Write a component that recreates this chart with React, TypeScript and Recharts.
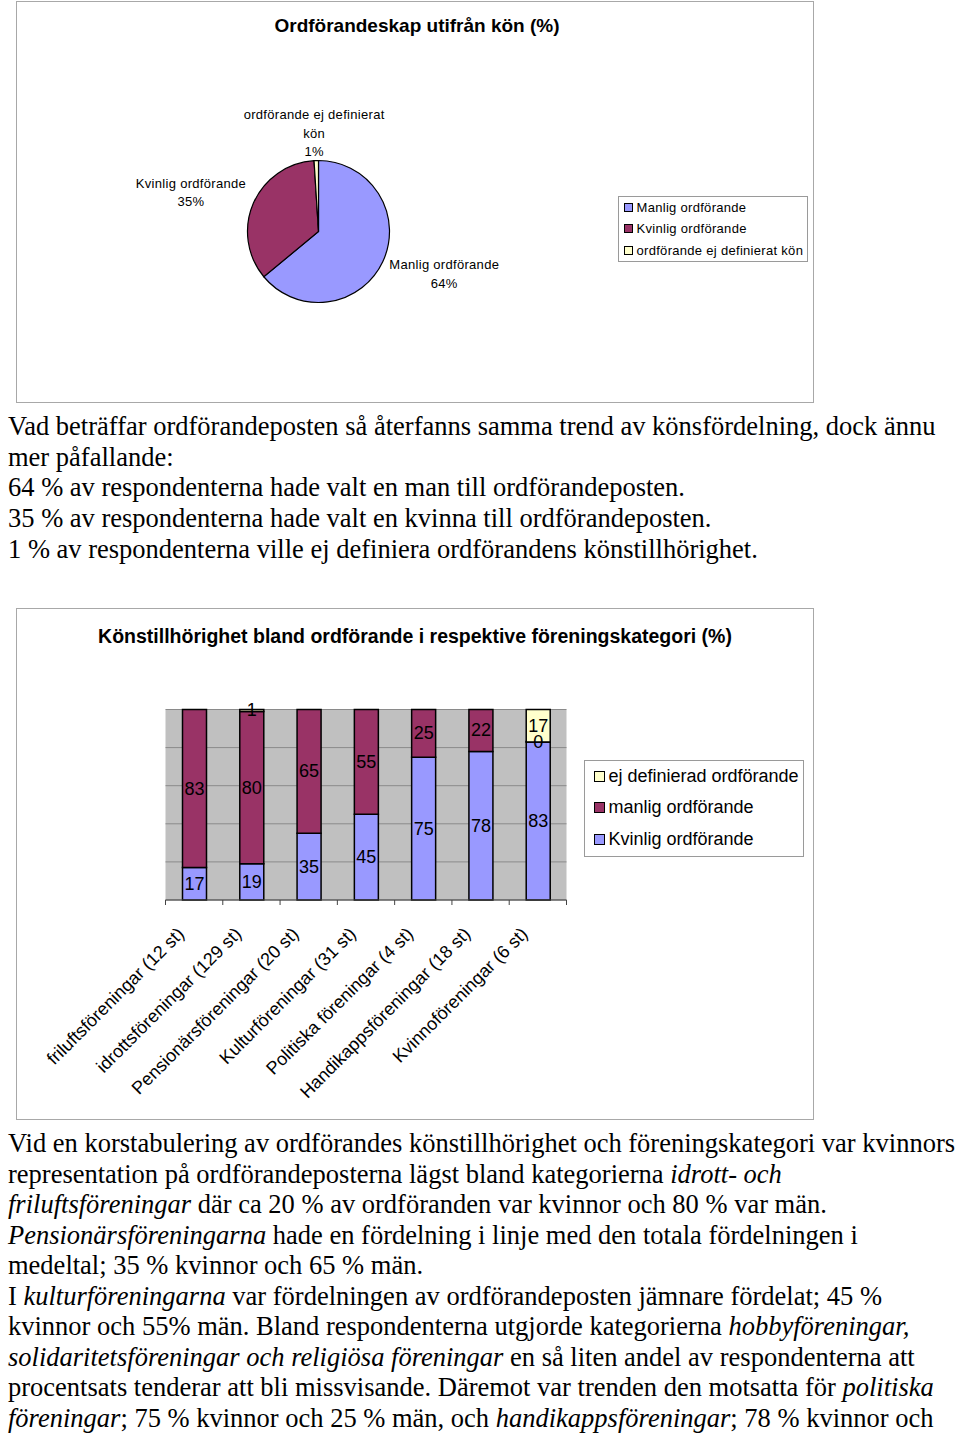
import React from 'react';
import {
  PieChart,
  Pie,
  Cell,
  Legend,
  BarChart,
  Bar,
  XAxis,
  YAxis,
  CartesianGrid,
  LabelList,
} from 'recharts';

// --- Diagram 1: ordförandeskap utifrån kön ---
const pieNames = ['Manlig ordförande', 'Kvinlig ordförande', 'ordförande ej definierat kön'];
const pieValues = [64, 35, 1];
const pieColors = ['#9999FF', '#993366', '#FFFFCC'];

// --- Diagram 2: könstillhörighet per föreningskategori ---
const categories = [
  'friluftsföreningar (12 st)',
  'idrottsföreningar (129 st)',
  'Pensionärsföreningar (20 st)',
  'Kulturföreningar (31 st)',
  'Politiska föreningar (4 st)',
  'Handikappsföreningar (18 st)',
  'Kvinnoföreningar (6 st)',
];
const kvinligValues = [17, 19, 35, 45, 75, 78, 83];
const manligValues = [83, 80, 65, 55, 25, 22, 0];
const ejValues: (number | null)[] = [null, 1, null, null, null, null, 17];
const yTicks = [0, 10, 20, 30, 40, 50, 60, 70, 80, 90, 100];

const pieData = pieNames.map((name, i) => ({ name, value: pieValues[i], color: pieColors[i] }));
const barData = categories.map((cat, i) => ({
  cat,
  kvinlig: kvinligValues[i],
  manlig: manligValues[i],
  ej: ejValues[i],
}));

const SANS = '"Liberation Sans", Arial, sans-serif';
const SERIF = '"Liberation Serif", "Times New Roman", serif';

const wrap = (s: string, max: number) => {
  const out: string[] = [];
  let cur = '';
  s.split(' ').forEach((w) => {
    if (cur && (cur + ' ' + w).length > max) {
      out.push(cur);
      cur = w;
    } else cur = cur ? cur + ' ' + w : w;
  });
  if (cur) out.push(cur);
  return out;
};

const RAD = Math.PI / 180;
const renderPieLabel = (p: any) => {
  const { cx, cy, midAngle, outerRadius, name, value } = p;
  const x = cx + (outerRadius + 68) * Math.cos(-midAngle * RAD);
  const y = cy + (outerRadius + 28) * Math.sin(-midAngle * RAD);
  const lines = [...wrap(name, 24), `${value}%`];
  const lh = 18.5;
  const y0 = y - ((lines.length - 1) * lh) / 2;
  return (
    <text
      x={x}
      y={y0}
      textAnchor="middle"
      dominantBaseline="central"
      fontSize={13}
      letterSpacing={0.3}
      fontFamily={SANS}
      fill="#000"
    >
      {lines.map((l, i) => (
        <tspan key={i} x={x} y={y0 + i * lh}>
          {l}
        </tspan>
      ))}
    </text>
  );
};

// etikett mitt i segmentet, även för värdet 0
const renderBarLabel = (p: any) => {
  const { x, y, width, height, value } = p;
  if (value === null || value === undefined) return null;
  return (
    <text
      x={x + width / 2}
      y={y + height / 2}
      textAnchor="middle"
      dominantBaseline="central"
      fontSize={18}
      fontFamily={SANS}
      fill="#000"
    >
      {value}
    </text>
  );
};

const BoxLegend = ({ items, fontSize, gap, pad, sq, spacing }: any) => (
  <div
    style={{
      border: '1px solid #9a9a9a',
      background: '#fff',
      padding: pad,
      fontFamily: SANS,
      fontSize,
      letterSpacing: spacing || 0,
      lineHeight: `${gap}px`,
      color: '#000',
      whiteSpace: 'nowrap',
    }}
  >
    {items.map((it: any) => (
      <div key={it.name} style={{ display: 'flex', alignItems: 'center' }}>
        <span
          style={{
            display: 'inline-block',
            boxSizing: 'border-box',
            width: sq,
            height: sq,
            background: it.color,
            border: '1.5px solid #000',
            marginRight: 4,
          }}
        />
        {it.name}
      </div>
    ))}
  </div>
);

const PLOT_W = 401;

const CatTick = (p: any) => {
  const { x, y, payload } = p;
  const half = PLOT_W / categories.length / 2;
  const tx = x - 9;
  const ty = y + 27;
  return (
    <g>
      <line x1={x - half} y1={y - 8} x2={x - half} y2={y - 3} stroke="#444" />
      {payload.index === categories.length - 1 && (
        <line x1={x + half} y1={y - 8} x2={x + half} y2={y - 3} stroke="#444" />
      )}
      <text
        x={tx}
        y={ty}
        textAnchor="end"
        fontSize={18}
        fontFamily={SANS}
        fill="#000"
        transform={`rotate(-45, ${tx}, ${ty})`}
      >
        {payload.value}
      </text>
    </g>
  );
};

const frame: React.CSSProperties = {
  position: 'absolute',
  left: 16,
  width: 798,
  border: '1.5px solid #a8a8a8',
  boxSizing: 'border-box',
  background: '#fff',
};

const textLine = (content: React.ReactNode, top: number, key: string) => (
  <div
    key={key}
    style={{
      position: 'absolute',
      left: 8,
      top,
      whiteSpace: 'nowrap',
      fontFamily: SERIF,
      fontSize: 26.5,
      lineHeight: '30.7px',
      color: '#000',
    }}
  >
    {content}
  </div>
);

const para1 = [
  'Vad beträffar ordförandeposten så återfanns samma trend av könsfördelning, dock ännu',
  'mer påfallande:',
  '64 % av respondenterna hade valt en man till ordförandeposten.',
  '35 % av respondenterna hade valt en kvinna till ordförandeposten.',
  '1 % av respondenterna ville ej definiera ordförandens könstillhörighet.',
];

const para2: React.ReactNode[] = [
  'Vid en korstabulering av ordförandes könstillhörighet och föreningskategori var kvinnors',
  <>representation på ordförandeposterna lägst bland kategorierna <i>idrott- och</i></>,
  <><i>friluftsföreningar</i> där ca 20 % av ordföranden var kvinnor och 80 % var män.</>,
  <><i>Pensionärsföreningarna</i> hade en fördelning i linje med den totala fördelningen i</>,
  'medeltal; 35 % kvinnor och 65 % män.',
  <>I <i>kulturföreningarna</i> var fördelningen av ordförandeposten jämnare fördelat; 45 %</>,
  <>kvinnor och 55% män. Bland respondenterna utgjorde kategorierna <i>hobbyföreningar,</i></>,
  <><i>solidaritetsföreningar och religiösa föreningar</i> en så liten andel av respondenterna att</>,
  <>procentsats tenderar att bli missvisande. Däremot var trenden den motsatta för <i>politiska</i></>,
  <><i>föreningar</i>; 75 % kvinnor och 25 % män, och <i>handikappsföreningar</i>; 78 % kvinnor och</>,
];

export default function App() {
  const barLegend = [
    { name: 'ej definierad ordförande', color: '#FFFFCC' },
    { name: 'manlig ordförande', color: '#993366' },
    { name: 'Kvinlig ordförande', color: '#9999FF' },
  ];
  return (
    <div style={{ position: 'absolute', left: 0, top: 0, width: 960, height: 1436, background: '#fff', overflow: 'hidden' }}>
      {/* Diagram 1 */}
      <div style={{ ...frame, top: 1, height: 402 }}>
        <div
          style={{
            position: 'absolute',
            left: 0,
            width: '100%',
            top: 13,
            textAlign: 'center',
            fontFamily: SANS,
            fontWeight: 'bold',
            fontSize: 19,
            lineHeight: '22px',
            paddingLeft: 4,
            boxSizing: 'border-box',
          }}
        >
          Ordförandeskap utifrån kön (%)
        </div>
        <PieChart width={796} height={400} style={{ position: 'absolute', left: 0, top: 0 }}>
          <Pie
            data={pieData}
            dataKey="value"
            nameKey="name"
            cx={296.5}
            cy={224.5}
            outerRadius={71}
            startAngle={90}
            endAngle={-270}
            stroke="#000"
            strokeWidth={1.2}
            label={renderPieLabel}
            labelLine={false}
            isAnimationActive={false}
          >
            {pieData.map((d) => (
              <Cell key={d.name} fill={d.color} />
            ))}
          </Pie>
          <Legend
            layout="vertical"
            align="center"
            verticalAlign="middle"
            wrapperStyle={{ top: 193.5, left: 600.5, width: 'auto' }}
            content={() => (
              <BoxLegend items={pieData} fontSize={13} spacing={0.3} gap={21.5} pad="0px 4px 0px 5px" sq={9} />
            )}
          />
        </PieChart>
      </div>

      {para1.map((l, i) => textLine(l, 411 + i * 30.7, 'p1' + i))}

      {/* Diagram 2 */}
      <div style={{ ...frame, top: 608, height: 512 }}>
        <div
          style={{
            position: 'absolute',
            left: 0,
            width: '100%',
            top: 16,
            textAlign: 'center',
            fontFamily: SANS,
            fontWeight: 'bold',
            fontSize: 19.5,
            lineHeight: '23px',
          }}
        >
          Könstillhörighet bland ordförande i respektive föreningskategori (%)
        </div>
        <BarChart
          width={796}
          height={510}
          data={barData}
          margin={{ top: 100.5, right: 796 - 148.5 - PLOT_W, bottom: 20, left: 148.5 }}
          barCategoryGap="58%"
          style={{ position: 'absolute', left: 0, top: 0 }}
        >
          <CartesianGrid vertical={false} fill="#C0C0C0" stroke="#8a8a8a" fillOpacity={1} />
          <YAxis hide domain={[0, 100]} ticks={yTicks} />
          <XAxis
            dataKey="cat"
            interval={0}
            height={199}
            axisLine={{ stroke: '#444' }}
            tickLine={false}
            tick={<CatTick />}
          />
          <Bar dataKey="kvinlig" stackId="a" fill="#9999FF" stroke="#000" strokeWidth={1.5} barSize={24} isAnimationActive={false}>
            <LabelList dataKey="kvinlig" content={renderBarLabel} />
          </Bar>
          <Bar
            dataKey="manlig"
            stackId="a"
            fill="#993366"
            stroke="#000"
            strokeWidth={1.5}
            barSize={24}
            minPointSize={0.5}
            isAnimationActive={false}
          >
            <LabelList dataKey="manlig" content={renderBarLabel} />
          </Bar>
          <Bar dataKey="ej" stackId="a" fill="#FFFFCC" stroke="#000" strokeWidth={1.5} barSize={24} isAnimationActive={false}>
            <LabelList dataKey="ej" content={renderBarLabel} />
          </Bar>
          <Legend
            layout="vertical"
            align="center"
            verticalAlign="middle"
            wrapperStyle={{ top: 150.5, left: 566.5, width: 'auto' }}
            content={() => <BoxLegend items={barLegend} fontSize={18} gap={31.5} pad="0px 4px 1px 9px" sq={11} />}
          />
        </BarChart>
      </div>

      {para2.map((l, i) => textLine(l, 1128 + i * 30.55, 'p2' + i))}
    </div>
  );
}
